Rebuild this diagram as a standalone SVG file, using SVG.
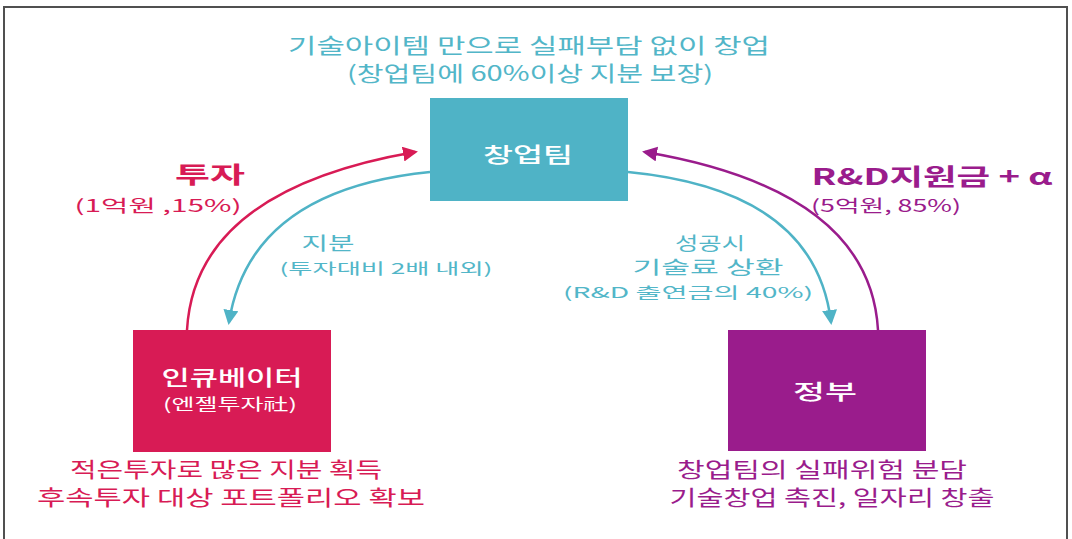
<svg xmlns="http://www.w3.org/2000/svg" width="1072" height="539" viewBox="0 0 1072 539">
<style>
text{font-family:"Noto Sans CJK KR","Liberation Sans",sans-serif;text-anchor:middle}
.teal{fill:#52b6c8}
.red{fill:#d81b55}
.pur{fill:#9a1c8c}
.lab{fill:#ffffff;font-size:21px;font-weight:500}
.t21{font-size:21px}
.t17{font-size:17px}
.b{font-weight:700;font-size:23px}
.c{fill:none;stroke-width:2.5}
</style>
<defs>
<marker id="aT" viewBox="0 0 10 10" refX="8" refY="5" markerWidth="6" markerHeight="6" orient="auto" markerUnits="strokeWidth"><path d="M0,0 L10,5 L0,10 z" fill="#4fb3c6"/></marker>
<marker id="aR" viewBox="0 0 10 10" refX="8" refY="5" markerWidth="6" markerHeight="6" orient="auto" markerUnits="strokeWidth"><path d="M0,0 L10,5 L0,10 z" fill="#d81b55"/></marker>
<marker id="aP" viewBox="0 0 10 10" refX="8" refY="5" markerWidth="6" markerHeight="6" orient="auto" markerUnits="strokeWidth"><path d="M0,0 L10,5 L0,10 z" fill="#9a1c8c"/></marker>
</defs>
<rect width="1072" height="539" fill="#ffffff"/>
<path d="M4,539 V7 H1067 V539" fill="none" stroke="#505050" stroke-width="2"/>

<g id="connectors">
<path class="c" d="M187,330 Q195,190 415,152" stroke="#d81b55" marker-end="url(#aR)"/>
<path class="c" d="M430,172 Q250,190 229,322" stroke="#4fb3c6" marker-end="url(#aT)"/>
<path class="c" d="M878,330 Q870,190 645,152" stroke="#9a1c8c" marker-end="url(#aP)"/>
<path class="c" d="M628,172 Q815,190 831,322" stroke="#4fb3c6" marker-end="url(#aT)"/>
</g>

<g id="top-note">
<text class="teal t21" x="529" y="53" textLength="482" lengthAdjust="spacingAndGlyphs">기술아이템 만으로 실패부담 없이 창업</text>
<text class="teal t21" x="530" y="81" textLength="366" lengthAdjust="spacingAndGlyphs">(창업팀에 60%이상 지분 보장)</text>
</g>

<g id="startup">
<rect x="430" y="98" width="198" height="103" fill="#4fb3c6"/>
<text class="lab" x="528" y="162" textLength="90" lengthAdjust="spacingAndGlyphs">창업팀</text>
</g>

<g id="incubator">
<rect x="133" y="330" width="198" height="122" fill="#d81b55"/>
<text class="lab" x="232" y="385" textLength="141" lengthAdjust="spacingAndGlyphs">인큐베이터</text>
<text x="230" y="410" fill="#ffffff" font-size="16" textLength="134" lengthAdjust="spacingAndGlyphs">(엔젤투자社)</text>
</g>

<g id="government">
<rect x="728" y="330" width="198" height="121" fill="#9a1c8c"/>
<text class="lab" x="825" y="399" textLength="64" lengthAdjust="spacingAndGlyphs">정부</text>
</g>

<g id="labels">
<text class="red b" x="210" y="183" textLength="70" lengthAdjust="spacingAndGlyphs">투자</text>
<text class="red t17" x="158" y="212" textLength="167" lengthAdjust="spacingAndGlyphs">(1억원 ,15%)</text>
<text class="pur b" x="932" y="185" textLength="241" lengthAdjust="spacingAndGlyphs">R&amp;D지원금 + α</text>
<text class="pur t17" x="886" y="212" textLength="150" lengthAdjust="spacingAndGlyphs">(5억원, 85%)</text>
<text class="teal" font-size="18" x="328" y="250" textLength="53" lengthAdjust="spacingAndGlyphs">지분</text>
<text class="teal" font-size="15" x="386" y="274" textLength="213" lengthAdjust="spacingAndGlyphs">(투자대비 2배 내외)</text>
<text class="teal" font-size="18" x="710" y="250" textLength="70" lengthAdjust="spacingAndGlyphs">성공시</text>
<text class="teal" font-size="18" x="708" y="274" textLength="151" lengthAdjust="spacingAndGlyphs">기술료 상환</text>
<text class="teal" font-size="15" x="688" y="298" textLength="250" lengthAdjust="spacingAndGlyphs">(R&amp;D 출연금의 40%)</text>
</g>

<g id="notes">
<text class="red t21" x="226" y="477" textLength="312" lengthAdjust="spacingAndGlyphs">적은투자로 많은 지분 획득</text>
<text class="red t21" x="231" y="505" textLength="388" lengthAdjust="spacingAndGlyphs">후속투자 대상 포트폴리오 확보</text>
<text class="pur t21" x="822" y="477" textLength="290" lengthAdjust="spacingAndGlyphs">창업팀의 실패위험 분담</text>
<text class="pur t21" x="832" y="505" textLength="325" lengthAdjust="spacingAndGlyphs">기술창업 촉진, 일자리 창출</text>
</g>
</svg>
